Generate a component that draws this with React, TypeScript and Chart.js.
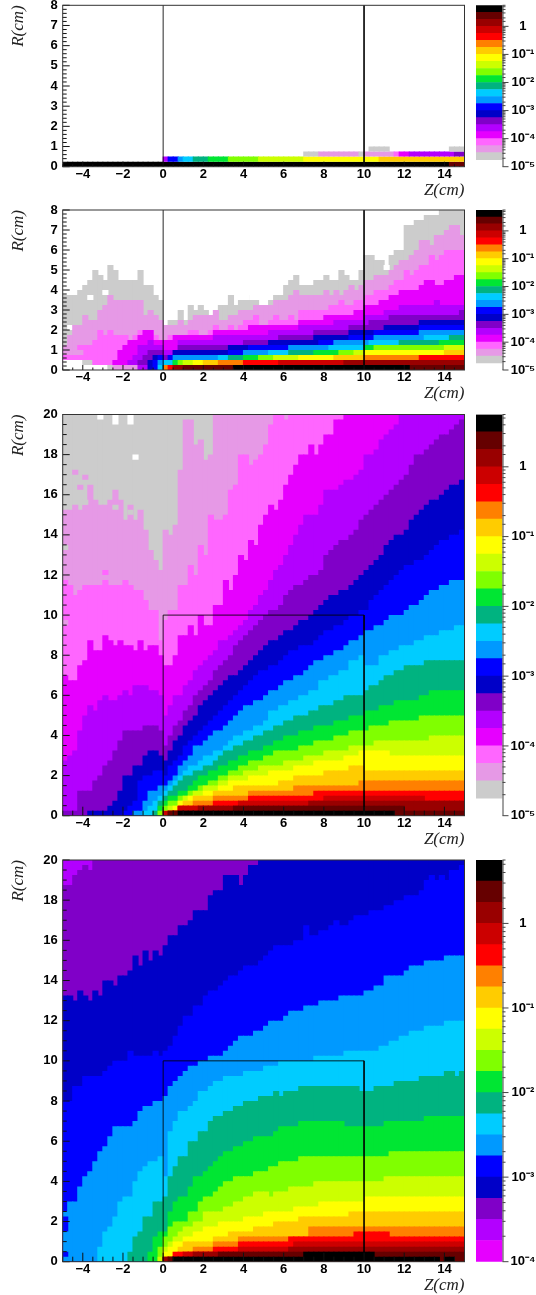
import React, { useEffect, useRef } from "react";
import { Chart, registerables } from "chart.js";
Chart.register(...registerables);

const palette = ["#cccccc","#e699e6","#ff66ff","#e600ff","#b300ff","#8000c8","#0000c8","#0000ff","#0099ff","#00ccff","#00b380","#00e633","#80ff00","#ccff00","#ffff00","#ffcc00","#ff8000","#ff0000","#cc0000","#990000","#660000","#000000","#ffffff"];
const levelEdges = [1.78e-5,3.16e-5,5.62e-5,1e-4,1.78e-4,3.16e-4,5.62e-4,1e-3,1.78e-3,3.16e-3,5.62e-3,1e-2,1.78e-2,3.16e-2,5.62e-2,0.1,0.178,0.316,0.562,1,1.78,3.16,5.62];
const zoneBox = [{x:0,y:0},{x:0,y:10},{x:10,y:10},{x:10,y:0}];
const superscripts = {"-5":"10⁻⁵","-4":"10⁻⁴","-3":"10⁻³","-2":"10⁻²","-1":"10⁻¹","0":"1"};

// A layer is [level, firstColumn, heights[]] (column top in 0.25 cm bins) or [level, colA, colB, binA, binB].
const p1Layers = [
[21,0,76,0,0],[20,77,79,0,0],
[4,20,20,1,1],[7,21,22,1,1],[8,23,23,1,1],[9,24,25,1,1],[10,26,28,1,1],[11,29,32,1,1],[12,33,38,1,1],[13,39,47,1,1],[14,48,62,1,1],[15,63,79,1,1],
[0,48,50,2,2],[1,51,58,2,2],[0,59,59,2,2],[1,60,65,2,2],[2,66,66,2,2],[3,67,68,2,2],[4,69,77,2,2],[5,78,79,2,2],
[0,61,64,3,3],[0,77,79,3,3],
];

const p2L0 = [15,15,15,16,17,18,20,19,18,21,20,18,18,18,18,20,17,17,15,14,9,10,10,12,10,13,12,13,12,11,11,13,13,15,13,14,15,14,14,12,12,14,15,15,17,18,19,17,17,17,18,18,19,18,18,20,19,18,18,20,23,23,22,22,21,23,24,24,29,29,30,30,31,31,31,32,32,32,32,32];
const p2L1 = [5,7,9,9,11,10,10,12,13,15,14,14,14,14,14,14,11,12,11,10,9,9,9,10,9,10,11,11,11,11,12,10,10,11,11,12,12,12,13,13,13,13,14,14,14,15,16,15,15,15,15,15,16,15,16,15,16,17,16,17,18,18,19,19,19,20,21,22,22,23,24,26,26,25,27,27,28,29,29,27];
const p2L2 = [4,4,4,5,5,5,6,8,7,8,7,7,7,6,7,8,8,8,7,6,6,7,7,7,7,8,8,7,7,8,9,8,8,9,8,9,10,10,11,9,9,10,11,10,10,11,10,12,12,12,12,12,12,13,13,14,13,13,14,14,15,15,16,16,16,17,18,18,20,19,20,21,21,23,22,23,24,24,24,24];
const p2L3 = [3,4,5,6,6,7,8,8,6,6,6,6,7,7,7,7,7,7,7,7,8,8,8,8,8,8,8,9,9,9,9,9,9,9,9,9,9,10,10,10,10,10,11,11,11,11,11,11,12,12,13,13,13,14,14,15,15,16,16,16,16,17,18,18,17,17,18,18,19,19];
const p2L4 = [3,3,5,5,6,5,5,4,4,4,6,6,6,6,6,6,6,7,7,7,7,7,7,7,7,7,7,7,8,8,8,8,8,8,9,9,9,9,9,9,9,10,10,10,10,10,10,11,11,11,11,12,12,12,13,13,13,13,13,13,13,14,13,13,13,13,13];
const p2L5 = [2,3,4,4,4,3,3,4,5,5,5,5,5,5,5,5,5,5,5,5,5,6,6,6,6,6,6,6,7,7,7,7,7,7,7,8,8,8,8,8,8,8,9,9,9,9,10,10,10,10,11,11,11,11,11,11,11,11,11,11,11,11,11,11,12];
const p2L6 = [1,2,3,2,2,4,4,4,4,4,4,4,4,4,4,4,5,5,5,5,5,5,5,5,6,6,6,6,6,6,6,6,6,7,7,7,7,7,7,7,8,8,8,8,8,8,8,9,9,9,9,9,9,9,10,10,10,10,10,10,10,10,10];
const p2L7 = [2,3,2,3,3,3,3,3,3,3,3,3,3,3,3,4,4,4,4,5,5,5,5,5,5,5,5,5,5,5,5,5,5,6,6,6,6,6,6,7,7,7,7,7,8,8,8,8,8,8,8,8,8,9,9,9,9,9,9,9,9,9];
const p2L8 = [1,1,2,3,3,3,3,3,3,3,3,3,3,3,3,3,3,4,4,4,4,4,4,4,4,4,5,5,5,5,5,5,5,5,5,6,6,6,6,6,6,6,6,7,7,7,7,7,7,7,7,7,8,8,8,8,8,8,8,8,8];
const p2L9 = [2,2,2,2,2,2,2,2,2,2,2,2,3,3,3,3,3,3,3,3,3,3,4,4,4,4,4,4,4,4,4,4,4,4,5,5,5,5,5,5,5,5,6,6,6,6,6,6,6,6,6,6,6,7,7,7,7,7,7,7,7];
const p2Layers = [
[0,0,p2L0],[22,5,5,14,14],[22,8,8,15,15],[22,35,36,14,14],[22,64,64,20,20],[22,1,2,8,8],
[1,0,p2L1],[2,0,p2L2],[3,10,p2L3],[4,13,p2L4],[5,15,p2L5],[6,17,p2L6],[7,18,p2L7],[8,19,p2L8],[9,19,p2L9],
[10,20,21,0,0],[10,22,32,0,1],[10,33,44,0,2],[10,45,59,0,3],[10,60,66,0,4],[10,67,76,0,5],[10,77,79,0,6],
[11,20,21,0,0],[11,22,35,0,1],[11,36,49,0,2],[11,50,59,0,3],[11,60,74,0,4],[11,75,79,0,5],
[12,20,22,0,0],[12,23,38,0,1],[12,39,54,0,2],[12,55,61,0,3],[12,62,79,0,4],
[13,20,23,0,0],[13,24,41,0,1],[13,42,57,0,2],[13,58,75,0,3],[13,76,79,0,4],
[14,20,25,0,0],[14,26,46,0,1],[14,47,59,0,2],[14,60,79,0,3],
[15,20,27,0,0],[15,28,53,0,1],[15,54,75,0,2],[15,76,79,0,3],
[16,20,30,0,0],[16,31,59,0,1],[16,60,79,0,2],
[17,21,35,0,0],[17,36,70,0,1],[17,71,79,0,2],
[18,22,42,0,0],[18,43,79,0,1],
[19,22,55,0,0],[19,56,79,0,1],
[20,24,79,0,0],[21,34,68,0,0],
[22,0,8,0,0],[0,9,9,0,0],[1,10,14,0,0],[4,15,16,0,0],[6,17,17,0,0],[7,18,18,0,0],[9,19,19,0,0],
[22,0,3,1,1],[0,4,5,1,1],[2,6,9,1,1],[3,10,12,1,1],[4,13,14,1,1],[5,15,16,1,1],[6,17,17,1,1],[7,18,18,1,1],[8,19,19,1,1],
[2,0,10,2,2],[3,11,13,2,2],[4,14,15,2,2],[5,16,17,2,2],[6,18,18,2,2],[7,19,19,2,2],
[1,0,3,3,3],
];

const p3L1 = [61,61,62,61,62,66,63,62,62,63,65,63,59,62,59,61,57,53,51,49,57,56,58,69,79,79,74,75,71,72];
const p3L2 = [47,46,44,45,46,46,46,46,47,46,46,46,47,46,45,45,43,41,41,35,39,41,41,46,46,50,48,54,52,60,59,59,60,65,66,72,72,70,71,72,74,78,80,80,79];
const p3L3 = [28,27,27,30,31,35,33,33,36,35,34,35,34,34,33,35,33,34,34,32,30,30,32,36,36,38,36,40,38,38,42,42,47,45,48,52,51,55,54,58,60,62,61,63,66,68,70,72,72,74,72,74,76,76,79,79];
const p3L4 = [11,12,13,17,20,22,21,23,24,23,23,24,25,24,26,26,26,25,25,24,20,22,24,24,26,27,29,30,31,32,33,35,35,36,37,38,39,41,42,44,45,47,49,50,52,54,56,58,60,60,60,62,65,65,65,66,67,67,68,69,72,72,73,75,76,77,78];
const p3L5 = [1,1,1,5,5,5,7,8,10,11,13,15,17,17,17,17,18,18,18,17,14,16,18,19,21,22,24,25,26,27,29,30,31,32,34,35,36,37,38,39,40,41,41,42,44,45,46,46,47,48,48,49,52,53,54,55,55,56,57,59,60,61,62,63,64,65,66,67,68,70,72,72,73,74,75,76,76,77,78,79];
const p3L6 = [1,1,1,1,2,3,5,8,8,10,10,12,13,13,12,11,13,15,16,18,19,20,22,23,24,25,26,27,28,28,29,30,31,32,33,34,35,35,36,37,37,38,39,39,40,41,42,43,44,44,45,45,46,47,48,49,50,51,52,54,55,56,56,57,59,60,61,62,63,63,64,65,66,66,67];
const p3L7 = [1,2,3,7,8,8,9,9,8,10,11,12,14,15,16,17,18,19,20,21,22,23,24,25,26,27,28,29,29,30,30,31,32,33,33,34,34,34,35,36,37,37,38,38,39,40,40,41,41,43,44,45,46,47,48,49,50,50,51,51,52,53,54,55,55,56,56,57];
const p3L8 = [1,1,3,5,5,6,6,7,8,10,11,12,14,14,15,16,17,17,18,19,20,21,22,22,23,23,24,25,25,26,27,27,28,28,29,30,31,31,32,32,33,33,34,35,35,36,37,37,38,38,39,40,40,40,41,42,42,43,44,45,45,46,46,47,47,47];
const p3L9 = [1,2,3,4,5,6,7,8,9,10,10,11,12,12,13,13,14,15,16,16,17,17,18,18,19,21,21,22,22,23,23,24,24,25,25,27,27,28,28,29,29,31,31,32,30,30,30,32,32,33,33,34,34,34,35,35,36,36,36,37,37,37,38,38];
const p3L10 = [1,3,4,5,6,7,8,8,9,9,10,10,11,12,13,13,14,14,15,15,16,16,17,17,18,18,19,19,20,20,20,21,21,22,22,22,23,23,24,24,24,24,25,26,26,27,28,28,29,29,30,30,30,30,31,31,31,31,31,31,31,31];
const p3L11 = [2,3,4,4,5,5,6,7,8,8,9,9,10,10,11,11,12,12,13,13,13,14,14,15,15,16,16,16,17,17,17,18,18,18,18,19,19,19,20,20,20,21,21,21,22,22,22,23,23,23,23,23,24,24,25,25,25,25,25,25,25];
const p3L12 = [1,2,3,3,4,4,5,5,6,6,7,7,8,8,9,9,10,10,11,11,11,12,12,13,13,13,13,13,14,14,14,15,15,15,15,16,16,16,17,17,17,17,18,18,18,18,19,19,19,19,19,19,20,20,20,20,20,20,20,20,20];
const p3L13 = [1,2,2,3,4,4,5,5,6,6,6,7,7,8,8,8,9,9,9,10,10,10,10,10,11,11,11,11,12,12,12,12,13,13,13,13,13,14,14,14,14,14,15,15,15,15,15,15,15,15,15,15,15,16,16,16,16,16,16,16,16];
const p3L14 = [1,1,2,3,3,4,4,4,5,5,5,6,6,7,7,7,7,8,8,8,8,9,9,9,9,9,10,10,10,10,11,11,11,11,11,11,12,12,12,13,13,13,13,13,13,12,12,12,12,12,12,12,12,12,12,12,12,12,12,12];
const p3L15 = [1,1,2,3,3,4,4,4,4,5,5,5,5,6,6,6,6,6,6,6,6,6,7,7,7,8,8,8,8,8,8,9,9,9,9,9,10,10,10,9,9,9,9,9,9,9,9,9,9,9,9,9,9,9,9,9,9,9,9];
const p3Layers = [
[0,0,79,0,79],[1,0,p3L1],[1,30,79,0,79],[2,0,p3L2],[2,45,79,0,79],[3,0,p3L3],[3,56,79,0,79],[4,0,p3L4],[4,67,79,0,79],[5,0,p3L5],
[6,5,p3L6],[7,12,p3L7],[8,14,p3L8],[9,16,p3L9],[10,18,p3L10],[11,19,p3L11],[12,19,p3L12],[13,20,p3L13],[14,20,p3L14],[15,21,p3L15],
[16,21,22,0,0],[16,23,25,0,1],[16,26,29,0,2],[16,30,36,0,3],[16,37,45,0,4],[16,46,58,0,5],[16,59,79,0,6],
[17,22,22,0,0],[17,23,29,0,1],[17,30,36,0,2],[17,37,49,0,3],[17,50,79,0,4],
[18,20,22,0,0],[18,23,34,0,1],[18,35,51,0,2],[18,52,71,0,3],[18,72,79,0,2],
[19,21,26,0,0],[19,27,48,0,1],[19,49,79,0,2],
[20,21,33,0,0],[20,34,67,0,1],[20,68,79,0,0],
[21,23,65,0,0],
[22,7,7,79,79],[22,10,10,78,79],[22,13,13,78,79],[22,14,14,71,71],
[1,2,2,68,68],[1,3,3,65,65],[1,4,4,67,67],[0,4,4,62,62],[0,10,10,61,61],[0,13,13,60,60],[2,8,8,48,48],[1,0,0,38,38],[0,0,0,53,53],
];

const p4L5 = [75,75,77,78,79,78];
const p4L6 = [53,53,52,54,53,52,54,53,56,56,55,57,57,58,61,59,62,60,62,61,63,65,65,67,67,68,70,70,70,73,74,74,77,77,77,75,77,79,79];
const p4L7 = [32,32,35,35,37,37,37,37,38,39,40,40,40,42,41,41,41,41,42,41,42,43,45,47,49,49,51,51,53,54,54,55,56,57,57,58,59,59,59,60,61,62,63,63,63,63,64,64,67,65,65,66,66,67,68,67,67,68,69,69,69,70,70,70,71,71,72,72,73,73,73,74,76,77,76,77,76,78,78,79];
const p4L8 = [10,12,12,15,17,18,20,22,23,25,27,27,27,27,28,30,31,31,32,32,33,35,36,37,38,39,39,40,40,41,41,41,42,43,44,45,45,45,46,46,47,48,48,48,49,50,50,50,51,51,51,52,52,52,52,53,53,53,53,53,54,54,55,55,57,57,57,57,58,59,59,59,60,60,60,60,61,61,61,61];
const p4L9 = [3,6,7,9,12,13,13,16,18,19,20,20,21,17,26,28,30,30,31,32,34,34,35,36,36,37,37,37,37,38,38,38,38,39,39,39,40,40,40,40,40,40,40,41,41,41,41,41,41,42,42,42,42,42,42,42,43,43,44,44,45,45,46,46,46,47,47,47,47,48,48,48,48,49];
const p4L10 = [2,5,6,9,9,12,12,13,17,19,21,21,24,24,26,26,28,29,29,30,30,31,31,32,32,32,33,33,33,34,33,34,34,34,35,35,35,35,35,35,35,35,35,35,35,35,34,34,34,35,35,35,35,36,36,36,36,36,37,37,37,37,37,38,38,37,38];
const p4L11 = [2,5,6,6,10,12,13,13,15,17,17,18,19,20,21,22,22,23,23,24,24,25,25,25,25,26,27,27,27,27,28,28,28,28,28,28,28,28,28,27,27,27,27,27,27,27,27,28,28,28,28,28,28,28,28,29,29,29,29,29,29,29,29];
const p4L12 = [3,5,7,8,8,8,10,10,12,13,13,14,15,16,16,17,17,17,17,18,18,18,19,19,20,20,20,20,21,21,21,21,21,21,21,21,21,21,21,21,21,21,21,21,21,21,22,22,22,22,22,22,22,22,22,22,22,22,22,22,22];
const p4L13 = [1,3,4,5,6,7,7,8,8,10,10,10,10,11,11,12,12,13,13,14,14,14,13,14,14,14,15,15,15,15,15,16,16,16,16,16,16,16,16,16,16,16,16,16,16,17,17,17,17,17,17,17,17,17,17,17,17,17,17,17,17];
const p4L14 = [2,3,4,4,5,5,6,6,7,7,7,8,8,8,8,8,9,9,9,9,10,10,10,10,10,10,11,11,11,11,11,12,12,12,12,12,12,12,12,12,13,13,13,13,13,13,13,13,13,13,13,13,13,13,13,13,13,13,13,13];
const p4L15 = [1,2,3,4,4,4,4,4,4,5,5,5,6,6,6,6,6,7,7,7,7,8,8,8,8,8,9,9,9,9,9,9,9,9,9,9,10,10,10,10,10,10,10,10,10,10,10,10,10,10,10,10,10,10,10,10,10,10,10];
const p4Layers = [
[4,0,79,0,79],[5,0,p4L5],[5,6,79,0,79],[6,0,p4L6],[6,39,79,0,79],[7,0,p4L7],[8,0,p4L8],[9,7,p4L9],[10,13,p4L10],[11,17,p4L11],[12,19,p4L12],[13,19,p4L13],[14,20,p4L14],[15,21,p4L15],
[7,0,0,6,8],[7,0,0,1,1],
[16,21,22,0,0],[16,23,25,0,1],[16,26,29,0,2],[16,30,34,0,3],[16,35,48,0,4],[16,49,79,0,6],
[17,22,29,0,1],[17,30,34,0,2],[17,35,44,0,3],[17,45,57,0,4],[17,58,64,0,5],[17,65,79,0,4],
[18,20,23,0,0],[18,24,34,0,1],[18,35,45,0,2],[18,46,79,0,3],
[19,20,25,0,0],[19,26,44,0,1],[19,45,79,0,2],
[20,21,30,0,0],[20,31,79,0,1],
[21,22,47,0,0],[21,48,61,0,1],[21,62,74,0,0],[21,76,77,0,0],
];

const panels = [
  { layers: p1Layers, plotTop: 5.3, plotBottom: 166.7, yMax: 8, yMajor: 1, yMinor: 0.2, xMajorLen: 5, xMinorLen: 2.5, axisMin: 1e-5, firstLevel: 0 },
  { layers: p2Layers, plotTop: 210, plotBottom: 370, yMax: 8, yMajor: 1, yMinor: 0.2, xMajorLen: 5, xMinorLen: 2.5, axisMin: 1e-5, firstLevel: 0 },
  { layers: p3Layers, plotTop: 414.5, plotBottom: 815.7, yMax: 20, yMajor: 2, yMinor: 0.5, xMajorLen: 9, xMinorLen: 5, axisMin: 1e-5, firstLevel: 0 },
  { layers: p4Layers, plotTop: 860, plotBottom: 1261.7, yMax: 20, yMajor: 2, yMinor: 0.5, xMajorLen: 9, xMinorLen: 5, axisMin: 1e-4, firstLevel: 3 },
];

const PLOT_LEFT = 62.7, PLOT_RIGHT = 464.5, BAR_LEFT = 476, BAR_RIGHT = 502.5, MAIN_W = 475;
const tickFont = { family: "'Liberation Sans', Arial, sans-serif", size: 13, weight: "bold" as const };
const titleFont = { family: "'Liberation Serif', serif", size: 17, style: "italic" as const, weight: "normal" as const, lineHeight: 1.1 };
const colToZ = (c: number) => -5 + (c + 0.5) * 0.25;

function layerBars(layer: any[]) {
  if (Array.isArray(layer[2])) {
    return layer[2].map((h: number, i: number) => ({ x: colToZ(layer[1] + i), y: [0, h * 0.25] }));
  }
  const out: any[] = [];
  for (let c = layer[1]; c <= layer[2]; c++) out.push({ x: colToZ(c), y: [layer[3] * 0.25, (layer[4] + 1) * 0.25] });
  return out;
}

function Panel({ p }: { p: (typeof panels)[number] }) {
  const mainRef = useRef<HTMLCanvasElement>(null);
  const barRef = useRef<HTMLCanvasElement>(null);
  const T = Math.floor(p.plotTop) - 20;
  const H = Math.ceil(p.plotBottom) + 33 - T;
  useEffect(() => {
    const heat: any[] = p.layers.map((l: any[]) => ({
      type: "bar", data: layerBars(l), backgroundColor: palette[l[0]], borderWidth: 0,
      barPercentage: 1.22, categoryPercentage: 1, grouped: false,
    }));
    heat.push({ type: "line", data: zoneBox, borderColor: "rgba(0,0,0,0.85)", borderWidth: 1, pointRadius: 0, tension: 0, fill: false });
    const frame = {
      id: "frame",
      afterDatasetsDraw(c: any) {
        const ctx = c.ctx, a = c.chartArea, xs = c.scales.x, ys = c.scales.y;
        ctx.save();
        ctx.strokeStyle = "#111"; ctx.lineWidth = 1;
        ctx.beginPath();
        for (let v = -5; v <= 15; v += 0.5) {
          const major = Math.abs(v % 2) < 1e-6;
          const px = xs.getPixelForValue(v);
          ctx.moveTo(px, a.bottom); ctx.lineTo(px, a.bottom - (major ? p.xMajorLen : p.xMinorLen));
        }
        const n = Math.round(p.yMax / p.yMinor), every = Math.round(p.yMajor / p.yMinor);
        for (let i = 0; i <= n; i++) {
          const py = ys.getPixelForValue(i * p.yMinor);
          ctx.moveTo(a.left, py); ctx.lineTo(a.left + (i % every === 0 ? 7 : 4), py);
        }
        ctx.stroke();
        ctx.strokeStyle = "#333";
        ctx.strokeRect(a.left, a.top, a.right - a.left, a.bottom - a.top);
        ctx.restore();
      },
    };
    const main = new Chart(mainRef.current!, {
      type: "bar",
      data: { datasets: heat.reverse() },
      plugins: [frame],
      options: {
        animation: false, responsive: false,
        layout: { padding: { top: p.plotTop - T, right: MAIN_W - PLOT_RIGHT, left: 0, bottom: 0 } },
        plugins: { legend: { display: false }, tooltip: { enabled: false } },
        scales: {
          x: {
            type: "linear", min: -5, max: 15, offset: false,
            grid: { display: false, drawTicks: false }, border: { display: false },
            ticks: { stepSize: 1, autoSkip: false, maxRotation: 0, padding: 0, color: "#000", font: tickFont,
              callback: (v: any) => (Math.abs(v % 2) < 1e-6 ? String(v).replace("-", "\u2212") : "") },
            title: { display: true, text: "Z(cm)", align: "end", color: "#222", font: titleFont, padding: 0 },
            afterFit: (s: any) => { s.height = T + H - p.plotBottom; },
          },
          y: {
            type: "linear", min: 0, max: p.yMax,
            grid: { display: false, drawTicks: false }, border: { display: false },
            ticks: { stepSize: p.yMajor, autoSkip: false, padding: 5, color: "#000", font: tickFont },
            title: { display: true, text: "R(cm)", align: "end", color: "#222", font: titleFont, padding: { top: 9, bottom: 0 } },
            afterFit: (s: any) => { s.width = PLOT_LEFT; },
          },
        },
      } as any,
    } as any);

    const bands: any[] = [];
    for (let l = p.firstLevel; l < 22; l++) {
      bands.push({ label: String(l), data: [[levelEdges[l], levelEdges[l + 1]]], backgroundColor: palette[l], borderWidth: 0,
        barPercentage: 1, categoryPercentage: 1, grouped: false });
    }
    const barAxis = {
      id: "barAxis",
      afterDatasetsDraw(c: any) {
        const ctx = c.ctx, a = c.chartArea, ys = c.scales.y;
        ctx.save();
        ctx.strokeStyle = "#444"; ctx.lineWidth = 1;
        ctx.beginPath();
        ctx.moveTo(a.right + 0.5, a.top); ctx.lineTo(a.right + 0.5, a.bottom);
        for (const t of ys.ticks) {
          const lg = Math.log10(t.value);
          const major = Math.abs(lg - Math.round(lg)) < 1e-6;
          const py = ys.getPixelForValue(t.value);
          ctx.moveTo(a.right, py); ctx.lineTo(a.right + (major ? 6 : 3), py);
        }
        ctx.stroke();
        ctx.restore();
      },
    };
    const bar = new Chart(barRef.current!, {
      type: "bar",
      data: { labels: ["z"], datasets: bands },
      plugins: [barAxis],
      options: {
        animation: false, responsive: false,
        layout: { padding: { top: p.plotTop - T, bottom: T + H - p.plotBottom, left: 0, right: 0 } },
        plugins: { legend: { display: false }, tooltip: { enabled: false } },
        scales: {
          x: { display: false, stacked: false },
          y: {
            type: "logarithmic", position: "right", min: p.axisMin, max: 5.62,
            grid: { display: false, drawTicks: false }, border: { display: false },
            ticks: { autoSkip: false, maxRotation: 0, padding: 8, crossAlign: "center", color: "#000", font: tickFont,
              callback: (v: any) => {
                const lg = Math.log10(v);
                return Math.abs(lg - Math.round(lg)) < 1e-6 ? (superscripts as any)[String(Math.round(lg))] : "";
              } },
            afterFit: (s: any) => { s.width = 536 - BAR_RIGHT; },
          },
        },
      } as any,
    } as any);
    return () => { main.destroy(); bar.destroy(); };
  }, []);
  return (
    <>
      <canvas ref={mainRef} width={MAIN_W} height={H} style={{ position: "absolute", left: 0, top: T }} />
      <canvas ref={barRef} width={536 - BAR_LEFT} height={H} style={{ position: "absolute", left: BAR_LEFT, top: T }} />
    </>
  );
}

export default function App() {
  return (
    <div style={{ position: "absolute", left: 0, top: 0, width: 536, height: 1295, overflow: "hidden", background: "#fff" }}>
      {panels.map((p, i) => <Panel key={i} p={p} />)}
    </div>
  );
}
